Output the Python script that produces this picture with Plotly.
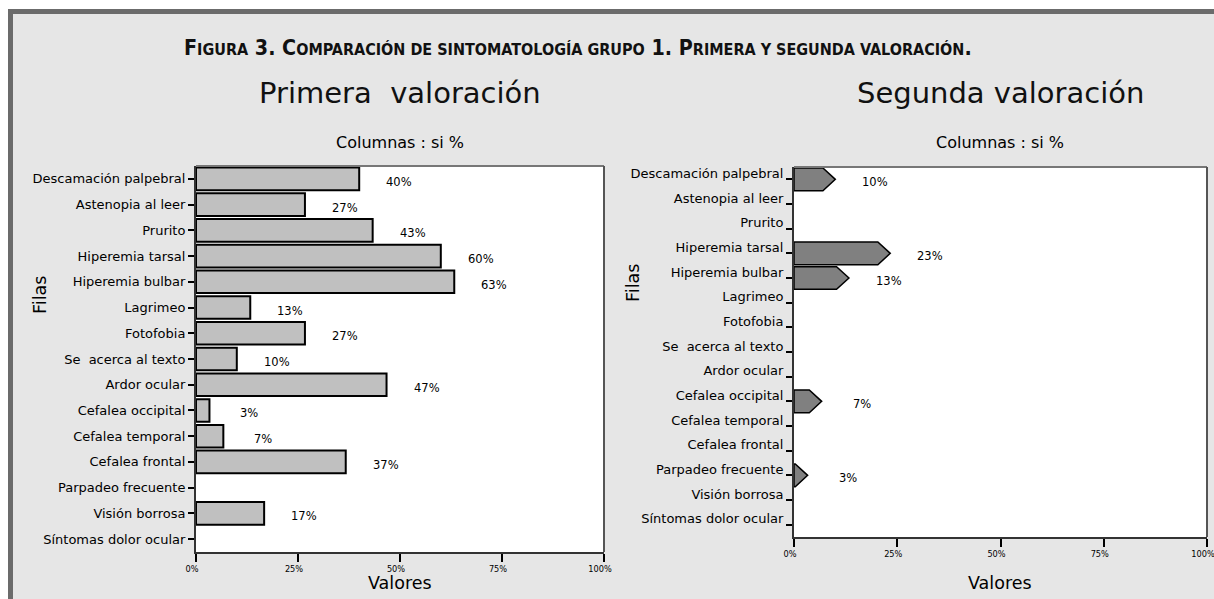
import plotly.graph_objects as go

# ---------------- data ----------------
categories = [
    "Descamación palpebral", "Astenopia al leer", "Prurito", "Hiperemia tarsal",
    "Hiperemia bulbar", "Lagrimeo", "Fotofobia", "Se  acerca al texto",
    "Ardor ocular", "Cefalea occipital", "Cefalea temporal", "Cefalea frontal",
    "Parpadeo frecuente", "Visión borrosa", "Síntomas dolor ocular",
]
primera_vals = [40.0, 26.7, 43.3, 60.0, 63.3, 13.3, 26.7, 10.0, 46.7, 3.3, 6.7, 36.7, 0.0, 16.7, 0.0]
segunda_vals = [10.0, 0.0, 0.0, 23.3, 13.3, 0.0, 0.0, 0.0, 0.0, 6.7, 0.0, 0.0, 3.3, 0.0, 0.0]
x_tick_vals = [0, 25, 50, 75, 100]
x_tick_text = ["0%", "25%", "50%", "75%", "100%"]

W, H = 1214, 599
FONT = "DejaVu Sans"
positions = list(range(len(categories)))

fig = go.Figure()

# left: plain bars
fig.add_trace(go.Bar(
    x=primera_vals, y=positions, orientation="h", width=0.88,
    marker=dict(color="#c0c0c0",
                line=dict(color="black", width=[2 if v > 0 else 0 for v in primera_vals])),
    xaxis="x", yaxis="y", showlegend=False, hoverinfo="skip",
))

# right: arrow-shaped bars built from the values
HEAD = 3.0
HALF = 0.46
for i, v in zip(positions, segunda_vals):
    if v <= 0:
        continue
    if v > HEAD:
        xs = [0, v - HEAD, v, v - HEAD, 0, 0]
        ys = [i - HALF, i - HALF, i, i + HALF, i + HALF, i - HALF]
    else:
        xs = [0, v, 0, 0]
        ys = [i - HALF, i, i + HALF, i - HALF]
    fig.add_trace(go.Scatter(
        x=xs, y=ys, mode="lines", fill="toself", fillcolor="#808080",
        line=dict(color="black", width=1.5), xaxis="x2", yaxis="y2",
        showlegend=False, hoverinfo="skip",
    ))

xaxis_common = dict(
    range=[0, 100], tickvals=x_tick_vals, ticktext=x_tick_text,
    ticks="outside", ticklen=8, tickwidth=2, tickcolor="black",
    tickfont=dict(family=FONT, size=8.2, color="black"),
    showgrid=False, zeroline=False, showline=True, linecolor="#333333", linewidth=2,
    fixedrange=True, automargin=False, ticklabeloverflow="allow", ticklabelshift=-4,
)
yaxis_common = dict(
    range=[len(categories) - 0.5, -0.5], tickvals=positions, ticktext=categories,
    ticks="outside", ticklen=6, tickwidth=2, tickcolor="black",
    tickfont=dict(family=FONT, size=13, color="black"),
    showgrid=False, zeroline=False, showline=True, linecolor="#333333", linewidth=2,
    fixedrange=True, automargin=False, ticklabeloverflow="allow",
)

fig.update_layout(
    width=W, height=H, margin=dict(l=0, r=0, t=0, b=0),
    paper_bgcolor="#e6e6e6", plot_bgcolor="white",
    template="none",
    xaxis=dict(domain=[196 / W, 604 / W], anchor="y", **xaxis_common),
    yaxis=dict(domain=[1 - 552 / H, 1 - 166 / H], anchor="x", **yaxis_common),
    xaxis2=dict(domain=[794 / W, 1207 / W], anchor="y2", **xaxis_common),
    yaxis2=dict(domain=[1 - 537 / H, 1 - 167 / H], anchor="x2", ticklabelshift=6, **yaxis_common),
)

shapes = [
    # white outside of frame
    dict(type="rect", xref="paper", yref="paper", x0=0, x1=1, y0=1 - 9 / H, y1=1,
         fillcolor="white", line=dict(width=0), layer="below"),
    dict(type="rect", xref="paper", yref="paper", x0=0, x1=8 / W, y0=0, y1=1,
         fillcolor="white", line=dict(width=0), layer="below"),
    # gray frame
    dict(type="line", xref="paper", yref="paper", x0=8 / W, x1=1, y0=1 - 11.5 / H, y1=1 - 11.5 / H,
         line=dict(color="#6b6b6b", width=5)),
    dict(type="line", xref="paper", yref="paper", x0=10.5 / W, x1=10.5 / W, y0=0, y1=1 - 9 / H,
         line=dict(color="#6b6b6b", width=5)),
]
for xr, yr in (("x", "y"), ("x2", "y2")):
    shapes.append(dict(type="line", xref=f"{xr} domain", yref=f"{yr} domain",
                       x0=0, x1=1, y0=1, y1=1, line=dict(color="#777777", width=2)))
    shapes.append(dict(type="line", xref=f"{xr} domain", yref=f"{yr} domain",
                       x0=1, x1=1, y0=0, y1=1, line=dict(color="#555555", width=2)))
fig.update_layout(shapes=shapes)

sc = "<span style='font-size:16px'>"
header = ("<b>F" + sc + "IGURA</span> 3. C" + sc + "OMPARACIÓN DE SINTOMATOLOGÍA GRUPO</span> 1. P"
          + sc + "RIMERA Y SEGUNDA VALORACIÓN</span>.</b>")


def label(text, x, y, size, angle=0, fam=FONT, color="black"):
    return dict(text=text, x=x / W, y=1 - y / H, xref="paper", yref="paper",
                xanchor="center", yanchor="middle", textangle=angle, showarrow=False,
                font=dict(family=fam, size=size, color=color))


annotations = [
    label(header, 578, 47, 21.3, fam="DejaVu Sans Condensed, DejaVu Sans", color="#111111"),
    label("Primera\u00a0 valoración", 400, 93, 29, color="#111111"),
    label("Segunda valoración", 1000, 93, 29, color="#111111"),
    label("Columnas : si %", 400, 143, 16),
    label("Columnas : si %", 1000, 143, 16),
    label("Filas", 40, 295, 17.5, angle=-90),
    label("Filas", 633, 283, 17.5, angle=-90),
    label("Valores", 400, 583, 17.5),
    label("Valores", 1000, 583, 17.5),
]
for i, v in zip(positions, primera_vals):
    if v > 0:
        annotations.append(dict(text=f"{round(v)}%", x=v, y=i, xref="x", yref="y",
                                xanchor="center", yanchor="middle",
                                xshift=40, yshift=-3, showarrow=False,
                                font=dict(family=FONT, size=11.5, color="black")))
for i, v in zip(positions, segunda_vals):
    if v > 0:
        annotations.append(dict(text=f"{round(v)}%", x=v, y=i, xref="x2", yref="y2",
                                xanchor="center", yanchor="middle",
                                xshift=40, yshift=-3, showarrow=False,
                                font=dict(family=FONT, size=11.5, color="black")))
fig.update_layout(annotations=annotations)

fig.write_html("out.html", config={"displayModeBar": False},
               post_script="document.body.style.margin='0';")
